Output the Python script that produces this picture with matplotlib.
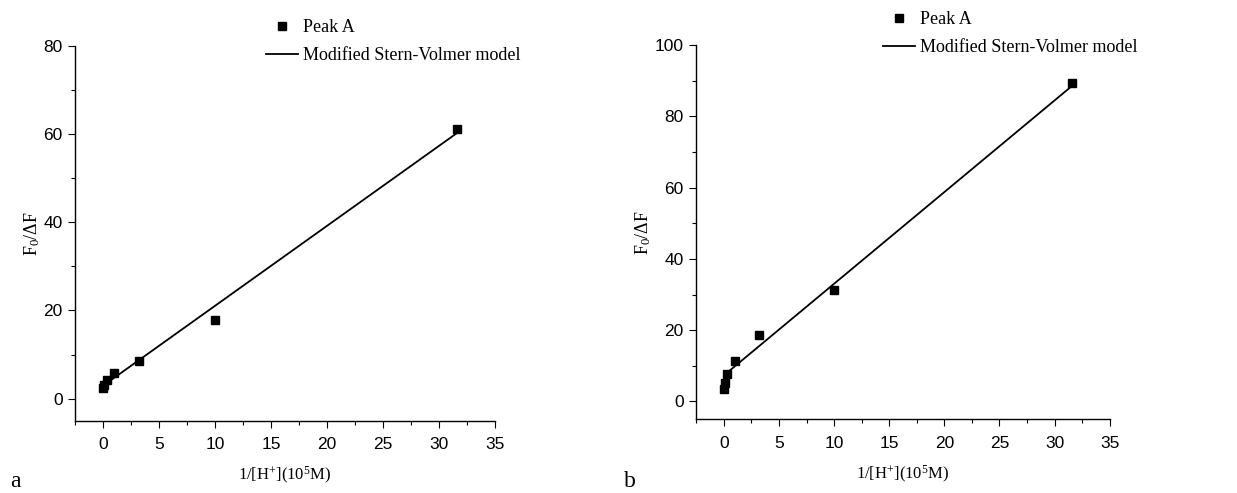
#import libraries
import matplotlib
matplotlib.use("Agg")
import matplotlib.pyplot as plt
from matplotlib.ticker import MultipleLocator

#data section

#x values: 1/[H+] in units of 10^5 M
conc = [0.01, 0.1, 0.316, 1.0, 3.16, 10.0, 31.6]

#panel a measured points
peak_a_a = [2.4, 3.2, 4.2, 5.8, 8.5, 17.8, 61.1]
#panel a fitted line (ends)
fit_x_a = [0.3, 31.6]
fit_y_a = [3.5, 60.2]

#panel b measured points
peak_a_b = [3.5, 5.1, 7.8, 11.4, 18.7, 31.3, 89.4]
#panel b fitted line (ends)
fit_x_b = [0.5, 31.6]
fit_y_b = [8.6, 88.6]

SERIF = "Liberation Serif"   #times-like font for labels
SANS = "Liberation Sans"     #arial-like font for tick numbers


#function: draw one panel

def draw_panel(ax, y_pts, fx, fy, ymax, ystep, leg_anchor, letter, letter_xy):
    #points and fitted line
    ax.plot(conc, y_pts, linestyle="none", marker="s", markersize=6,
            color="black", label="Peak A")
    ax.plot(fx, fy, color="black", linewidth=1.3, label="Modified Stern-Volmer model")

    #axis limits and ticks
    ax.set_xlim(-2.5, 35)
    ax.set_ylim(-5, ymax)
    ax.xaxis.set_major_locator(MultipleLocator(5))
    ax.xaxis.set_minor_locator(MultipleLocator(2.5))
    ax.yaxis.set_major_locator(MultipleLocator(ystep))
    ax.yaxis.set_minor_locator(MultipleLocator(ystep / 2))
    ax.tick_params(which="major", direction="out", length=5, width=0.8, labelsize=12.5)
    ax.tick_params(which="minor", direction="out", length=3, width=0.8)
    ax.tick_params(axis="x", which="major", pad=7)
    ax.tick_params(axis="y", which="major", pad=4)
    for lab in ax.get_xticklabels() + ax.get_yticklabels():
        lab.set_fontfamily(SANS)

    #only left and bottom spines like origin
    ax.spines["top"].set_visible(False)
    ax.spines["right"].set_visible(False)
    ax.spines["left"].set_linewidth(1.0)
    ax.spines["bottom"].set_linewidth(1.0)

    #axis labels
    ax.set_xlabel(r"1/[H$^{+}$](10$^{5}$M)", fontfamily=SERIF, fontsize=12, labelpad=9)
    ax.set_ylabel(r"F$_{0}$/$\Delta$F", fontfamily=SERIF, fontsize=13, labelpad=1)

    #legend sitting above top right
    ax.legend(loc="upper left", bbox_to_anchor=leg_anchor, frameon=False,
              borderpad=0, borderaxespad=0, handlelength=1.76, handletextpad=0.28,
              labelspacing=0.6, prop={"family": SERIF, "size": 13})

    #panel letter
    ax.figure.text(letter_xy[0], letter_xy[1], letter, fontfamily=SERIF, fontsize=17,
                   ha="left", va="baseline")


#main code

plt.rcParams["mathtext.fontset"] = "custom"
plt.rcParams["mathtext.rm"] = SERIF
plt.rcParams["mathtext.it"] = SERIF + ":italic"

fig = plt.figure(figsize=(12.37, 4.93), dpi=100)
ax_a = fig.add_axes([0.0609, 0.1467, 0.339, 0.760])
ax_b = fig.add_axes([0.5629, 0.1495, 0.3342, 0.759])

draw_panel(ax_a, peak_a_a, fit_x_a, fit_y_a, 80, 20, (0.4547, 1.071), "a",
           (10 / 1237, 1 - 487 / 493))
draw_panel(ax_b, peak_a_b, fit_x_b, fit_y_b, 100, 20, (0.4516, 1.091), "b",
           (624 / 1237, 1 - 487 / 493))

fig.savefig("out.png", dpi=100)
